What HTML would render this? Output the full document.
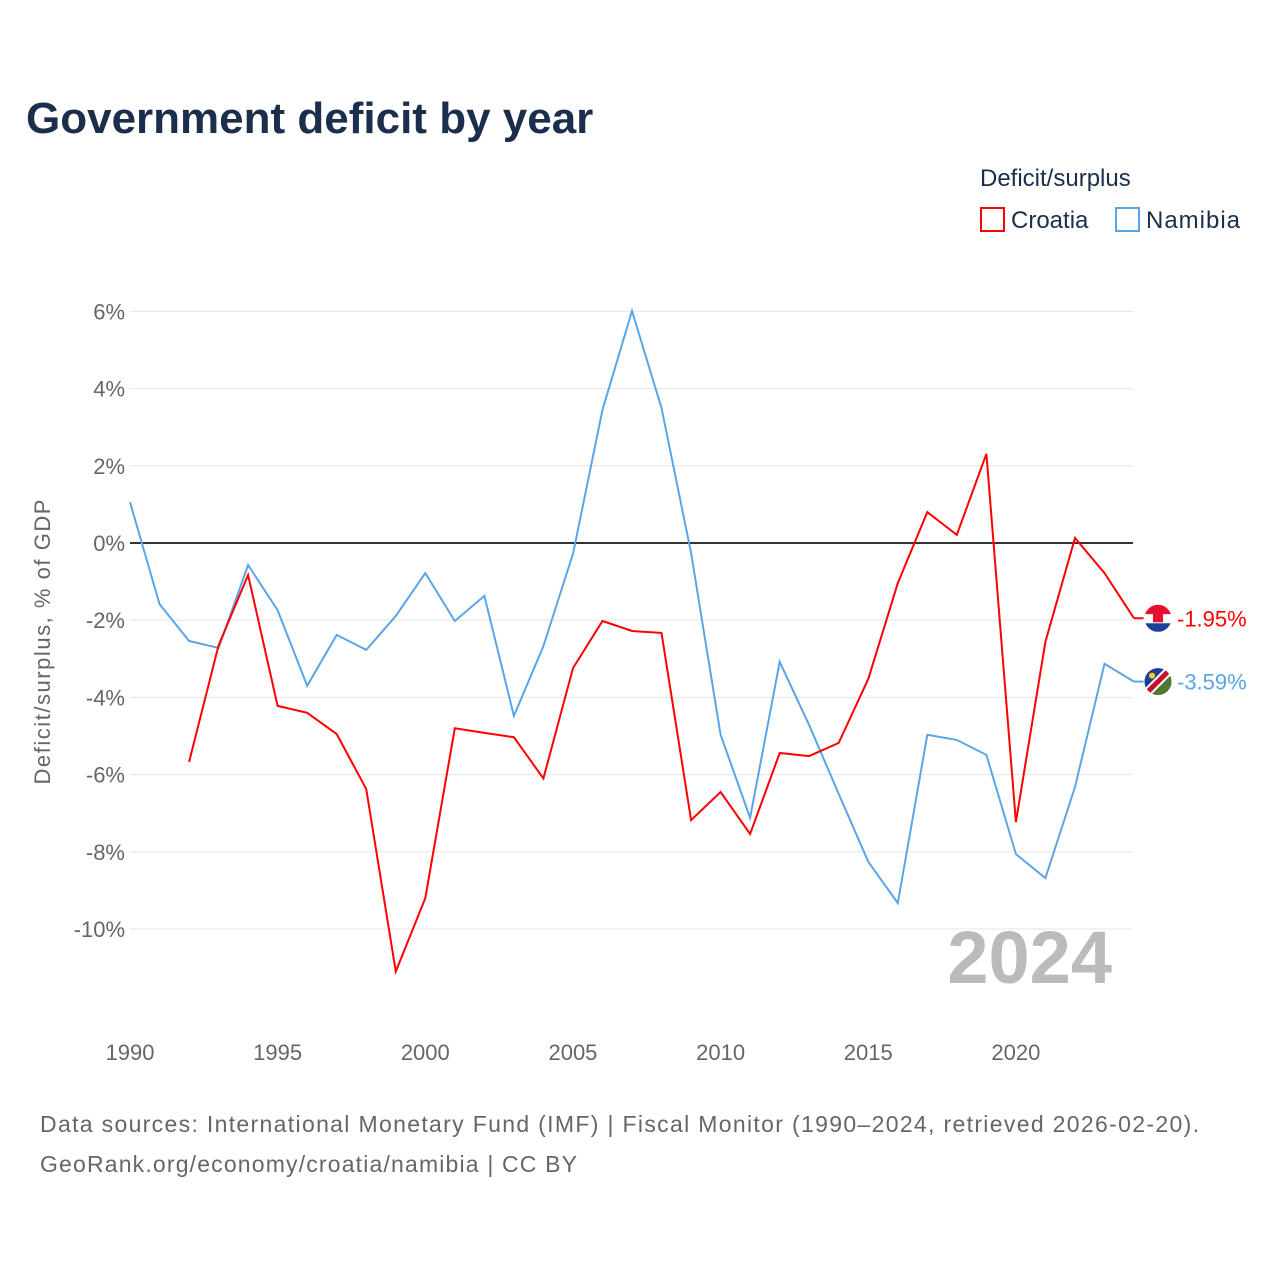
<!DOCTYPE html>
<html><head><meta charset="utf-8"><style>
body{margin:0;background:#fff;font-family:"Liberation Sans",sans-serif;}
svg text{font-family:"Liberation Sans",sans-serif;}
</style></head><body>
<svg width="1280" height="1280" xmlns="http://www.w3.org/2000/svg" id="chart">
<text x="26" y="133" font-size="44" font-weight="bold" fill="#1b2e4b">Government deficit by year</text>
<text x="980" y="186" font-size="24" fill="#1b2e4b">Deficit/surplus</text>
<g><rect x="981" y="208" width="23" height="23" fill="none" stroke="#f00" stroke-width="2"/><text x="1011" y="228" font-size="24" fill="#1b2e4b">Croatia</text></g>
<g><rect x="1116" y="208" width="23" height="23" fill="none" stroke="#5aa5e8" stroke-width="2"/><text x="1146" y="228" font-size="24" fill="#1b2e4b" textLength="94">Namibia</text></g>
<g id="grid"></g><g id="yticks"></g><g id="xticks"></g><g id="series"></g>
<text transform="translate(50,642) rotate(-90)" text-anchor="middle" font-size="22" fill="#666" textLength="285">Deficit/surplus, % of GDP</text>
<text x="1112" y="983" text-anchor="end" font-size="74" font-weight="bold" fill="#bbb">2024</text>
<text x="40" y="1132" font-size="23" fill="#666" textLength="1159">Data sources: International Monetary Fund (IMF) | Fiscal Monitor (1990–2024, retrieved 2026-02-20).</text>
<text x="40" y="1172" font-size="23" fill="#666" textLength="537">GeoRank.org/economy/croatia/namibia | CC BY</text>
</svg>
<script>
const years=[];for(let y=1990;y<=2024;y++)years.push(y);
const croatia=[null,null,-5.67,-2.65,-0.83,-4.22,-4.4,-4.95,-6.37,-11.1,-9.2,-4.8,-4.92,-5.03,-6.1,-3.24,-2.02,-2.28,-2.33,-7.18,-6.45,-7.54,-5.44,-5.52,-5.18,-3.52,-1.04,0.8,0.21,2.31,-7.23,-2.56,0.13,-0.78,-1.95];
const namibia=[1.06,-1.58,-2.54,-2.72,-0.57,-1.74,-3.7,-2.38,-2.77,-1.89,-0.78,-2.02,-1.37,-4.48,-2.67,-0.28,3.45,6.01,3.5,-0.26,-4.97,-7.12,-3.08,-4.72,-6.5,-8.26,-9.33,-4.97,-5.1,-5.49,-8.06,-8.68,-6.32,-3.13,-3.59];
const yTicks=[6,4,2,0,-2,-4,-6,-8,-10];
const xTicks=[1990,1995,2000,2005,2010,2015,2020];
const X=y=>130+(y-1990)*29.53;
const Y=v=>543-v*38.6;
const NS="http://www.w3.org/2000/svg";
function mk(tag,attrs,parent){const e=document.createElementNS(NS,tag);for(const k in attrs)e.setAttribute(k,attrs[k]);(typeof parent==='string'?document.getElementById(parent):parent).appendChild(e);return e;}
yTicks.forEach(v=>{
 const l=mk('line',{x1:130,x2:1133,y1:Y(v),y2:Y(v),stroke:v===0?'#333':'#e6e6e6','stroke-width':v===0?2:1},'grid');
 
 
 const t=mk('text',{x:125,y:Y(v)+8,'text-anchor':'end','font-size':22,fill:'#666'},'yticks');
 t.textContent=v+'%';
 
 
});
xTicks.forEach(v=>{
 const t=mk('text',{x:X(v),y:1060,'text-anchor':'middle','font-size':22,fill:'#666'},'xticks');
 t.textContent=v;
 
 
});
function line(data,color,name){
 let d='';data.forEach((v,i)=>{if(v===null)return;d+=(d?'L':'M')+X(years[i]).toFixed(1)+','+Y(v).toFixed(1);});
 const p=mk('path',{d:d,fill:'none',stroke:color,'stroke-width':2},'series');
 
 
 const last=data[data.length-1];
 const cy=Y(last);
 mk('line',{x1:1134,x2:1144,y1:cy,y2:cy,stroke:color,'stroke-width':2},'series');
 const g=mk('g',{},'series');
 
 
 const id='clip'+name;
 const cp=mk('clipPath',{id:id},g);mk('circle',{cx:1158,cy:cy,r:14},cp);
 const inner=mk('g',{'clip-path':'url(#'+id+')'},g);
 if(name==='croatia'){
  mk('rect',{x:1144,y:cy-14,width:28,height:10,fill:'#e8112d'},inner);
  mk('rect',{x:1144,y:cy-4,width:28,height:9,fill:'#fff'},inner);
  mk('rect',{x:1144,y:cy+5,width:28,height:9,fill:'#1a3f9c'},inner);
  mk('rect',{x:1153,y:cy-6,width:10,height:10,fill:'#e8112d'},inner);
 } else {
  mk('rect',{x:1144,y:cy-14,width:28,height:28,fill:'#4b7a2e'},inner);
  mk('polygon',{points:(1144)+','+(cy-14)+' '+(1172)+','+(cy-14)+' '+(1144)+','+(cy+14),fill:'#1a3f9c'},inner);
  mk('line',{x1:1144,y1:cy+14,x2:1172,y2:cy-14,stroke:'#fff','stroke-width':9},inner);
  mk('line',{x1:1144,y1:cy+14,x2:1172,y2:cy-14,stroke:'#c8102e','stroke-width':5},inner);
  mk('circle',{cx:1152,cy:cy-6,r:3,fill:'#ffce00'},inner);
 }
 mk('circle',{cx:1158,cy:cy,r:14,fill:'none',stroke:'#fff','stroke-width':1},g);
 const t=mk('text',{x:1177,y:cy+8,'font-size':22,fill:color},'series');
 t.textContent=last.toFixed(2)+'%';
 
 
}
line(namibia,'#5aa5e8','namibia');
line(croatia,'#ff0000','croatia');
</script>
</body></html>
